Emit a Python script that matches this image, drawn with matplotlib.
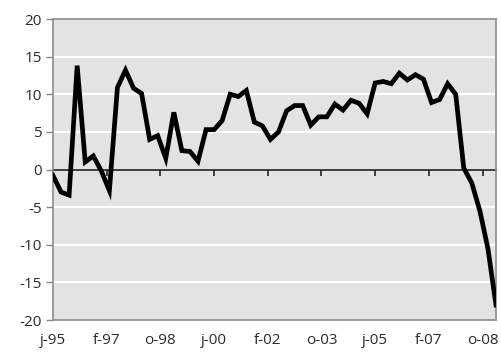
import numpy as np
import matplotlib
matplotlib.use('Agg')
from matplotlib import pyplot as plt

# quarterly values
values = [-0.8, -3.0, -3.4, 13.8, 1.0, 1.8, -0.2, -2.8, 10.9, 13.2,
          10.8, 10.1, 4.0, 4.5, 1.5, 7.6, 2.5, 2.4, 1.1, 5.3,
          5.3, 6.5, 10.0, 9.7, 10.5, 6.3, 5.8, 4.0, 5.0, 7.8,
          8.5, 8.5, 5.9, 7.0, 7.0, 8.7, 7.9, 9.2, 8.8, 7.4,
          11.5, 11.7, 11.4, 12.8, 11.9, 12.6, 12.0, 8.9, 9.3, 11.4,
          10.0, 0.2, -1.8, -5.5, -10.5, -18.0]
tick_labels = ['j-95', 'f-97', 'o-98', 'j-00', 'f-02', 'o-03', 'j-05', 'f-07', 'o-08']
y_ticks = [-20, -15, -10, -5, 0, 5, 10, 15, 20]

x = np.arange(len(values))
# labels every 20 months, data every 3 months
tick_pos = np.arange(len(tick_labels)) * 20 / 3

plt.rcParams['font.family'] = ['Open Sans', 'DejaVu Sans']

fig = plt.figure(figsize=(5.02, 3.56), dpi=100)
ax = fig.add_axes([0.1056, 0.1011, 0.8824, 0.8455])
ax.set_facecolor('#e3e3e3')

for yv in y_ticks:
    if yv not in (-20, 0, 20):
        ax.axhline(yv, color='white', linewidth=1.6, zorder=1)

ax.plot(x, values, color='black', linewidth=3.4, solid_joinstyle='miter', zorder=3)

ax.set_xlim(0, len(values) - 1)
ax.set_ylim(-20, 20)
ax.set_yticks(y_ticks)
ax.set_yticklabels([str(v) for v in y_ticks], fontsize=11, color='#2b2b2b')
ax.set_xticks(tick_pos)
ax.set_xticklabels(tick_labels, fontsize=11, color='#2b2b2b')
ax.tick_params(axis='x', length=0, pad=9)
ax.tick_params(axis='y', length=5, width=1, color='#888888', direction='out', pad=3)

for s in ax.spines.values():
    s.set_color('#8c8c8c')
    s.set_linewidth(1.2)

# axis line at zero with its tick marks
sec = ax.secondary_xaxis(0.5)
sec.xaxis.set_ticks_position('bottom')
sec.set_xticks(tick_pos)
sec.set_xticklabels([])
sec.tick_params(axis='x', length=4, width=1.2, color='#222222', direction='out',
                labelbottom=False, labeltop=False)
for s in sec.spines.values():
    s.set_color('#222222')
    s.set_linewidth(1.2)

fig.savefig('out.png', dpi=100)
